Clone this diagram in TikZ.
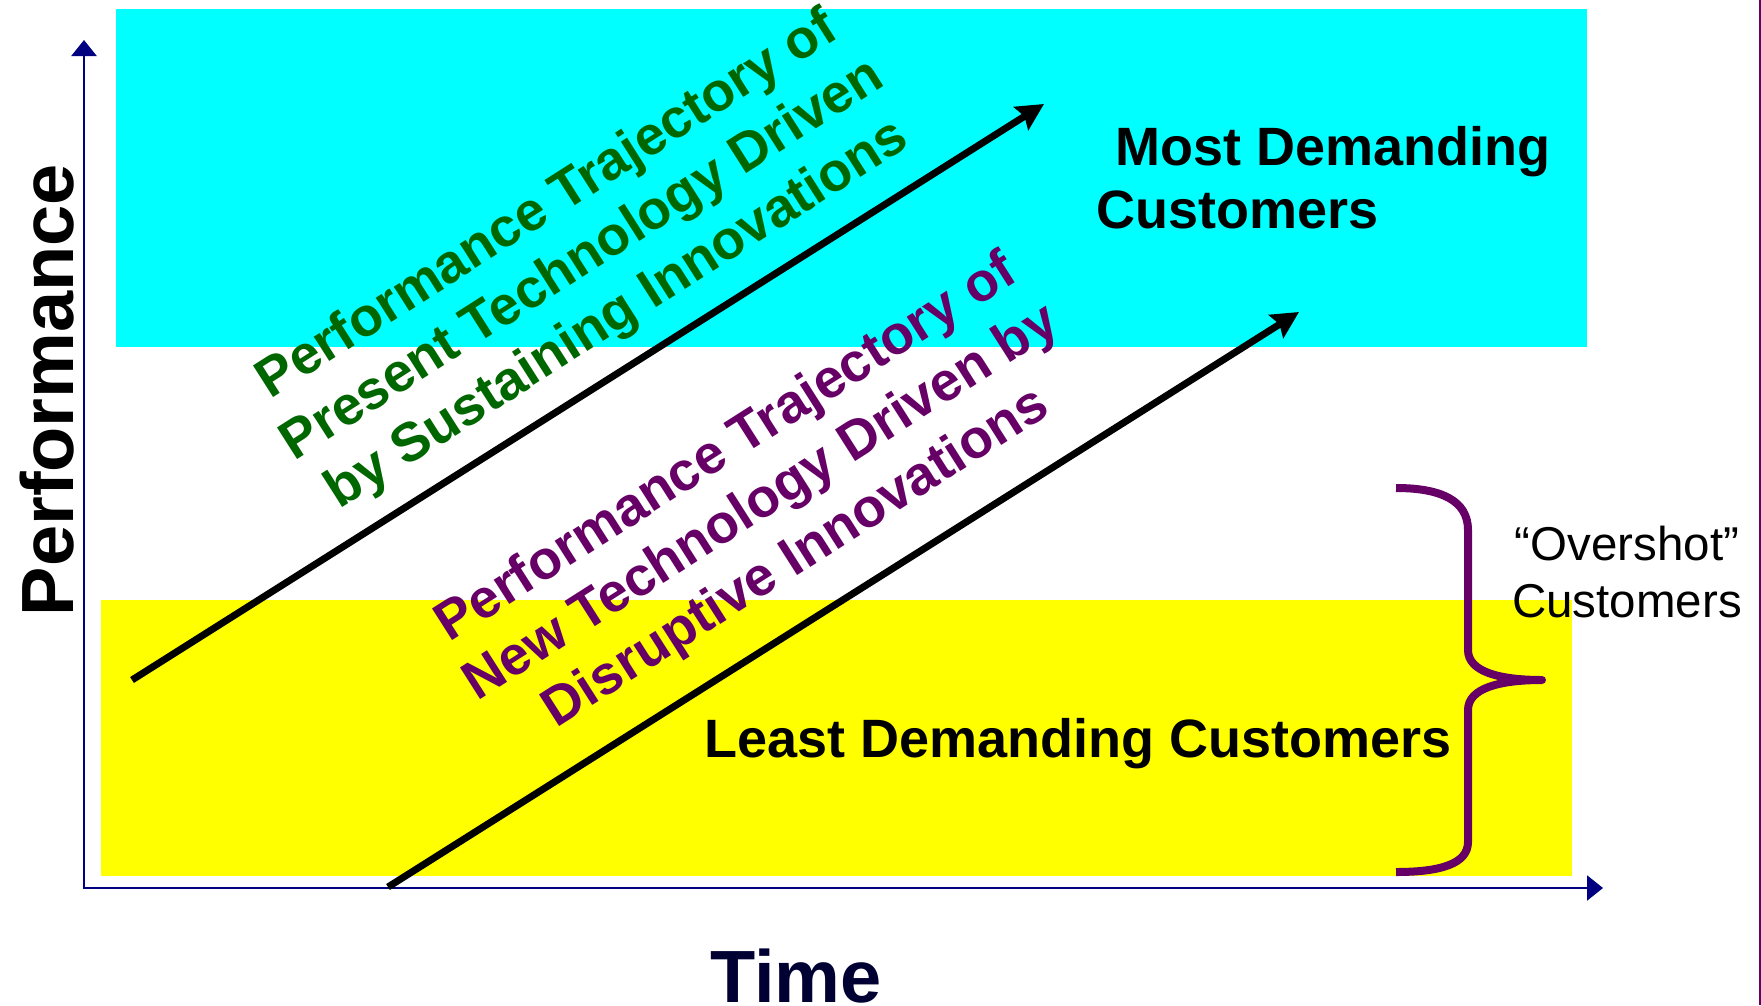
\documentclass[tikz,border=0pt]{standalone}
\usepackage{fontspec}
\setmainfont{Liberation Sans}
\usetikzlibrary{arrows.meta}
\definecolor{skycyan}{RGB}{0,255,255}
\definecolor{lowyellow}{RGB}{255,255,0}
\definecolor{axisnavy}{RGB}{0,0,128}
\definecolor{timenavy}{RGB}{0,0,51}
\definecolor{sustgreen}{RGB}{0,102,0}
\definecolor{disrpurple}{RGB}{102,0,102}

\begin{document}
\begin{tikzpicture}[x=1pt,y=-1pt,
  band/.style={fill=#1, draw=none},
  axisline/.style={draw=axisnavy, line width=2.2pt,
    {Triangle[length=16pt,width=25pt]}-{Triangle[length=16pt,width=25pt]}},
  trajectory/.style={draw=black, line width=7pt,
    -{Stealth[length=27pt,width=27pt,inset=4pt]}},
  axislabel/.style={font=\fontsize{74}{80}\selectfont\bfseries, inner sep=0pt},
  marketlabel/.style={font=\fontsize{54}{63}\selectfont\bfseries, text=black, inner sep=0pt},
  trajlabel/.style={font=\fontsize{54.5}{65}\selectfont\bfseries, text=#1,
    align=center, inner sep=0pt, rotate=32.5},
  bracestroke/.style={draw=disrpurple, line width=8pt, line join=round},
  sidenote/.style={font=\fontsize{47.5}{57}\selectfont, text=black,
    align=center, inner sep=0pt},
]
\useasboundingbox (0,0) rectangle (1761,1005);

% customer bands
\path[band=skycyan] (116,9) rectangle (1587,347);
\path[band=lowyellow] (101,600) rectangle (1572,876);

% slide edge
\draw[disrpurple, line width=1.5pt] (1760,0) -- (1760,1005);

% axes
\coordinate (origin) at (84,888);
\coordinate (ytip) at (84,40);
\coordinate (xtip) at (1603,888);
\draw[axisline] (ytip) -- (origin) -- (xtip);

\node[axislabel, text=black, rotate=90, anchor=base] (perf) at (73,390) {Performance};
\node[axislabel, text=timenavy, anchor=base] (time) at (796,1002) {Time};

% trajectories
\coordinate (sustStart) at (132,680);
\coordinate (sustEnd) at (1044,104);
\coordinate (disrStart) at (388,887);
\coordinate (disrEnd) at (1299,312);
\draw[trajectory] (sustStart) -- (sustEnd);
\draw[trajectory] (disrStart) -- (disrEnd);

\node[trajlabel=sustgreen] (sustText) at (583,261)
  {Performance Trajectory of\\Present Technology Driven\\by Sustaining Innovations};
\node[trajlabel=disrpurple] (disrText) at (762,504)
  {Performance Trajectory of\\New Technology Driven by\\Disruptive Innovations};

% market tiers
\node[marketlabel, align=left, anchor=north west] (most) at (1096,126)
  {\hspace{19pt}Most Demanding\\Customers};
\node[marketlabel, anchor=base] (least) at (1078,757) {Least Demanding Customers};

% overshot brace
\draw[bracestroke] (1396,488) .. controls (1440,488) and (1468,500) .. (1468,530)
  -- (1468,650) .. controls (1468,672) and (1500,680) .. (1542,680)
  .. controls (1500,680) and (1468,688) .. (1468,710)
  -- (1468,842) .. controls (1468,864) and (1440,872) .. (1396,872);
\node[sidenote, anchor=north] (overshot) at (1627,525.5) {“Overshot”\\Customers};
\end{tikzpicture}
\end{document}
